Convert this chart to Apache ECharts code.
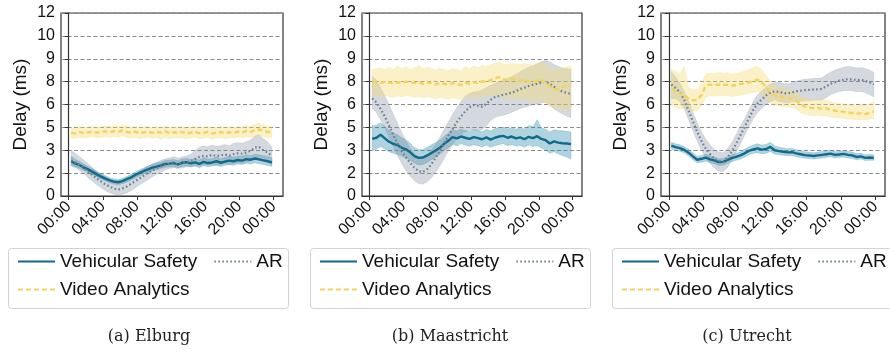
<!DOCTYPE html>
<html>
<head>
<meta charset="utf-8">
<script src="https://cdn.jsdelivr.net/npm/echarts@6/dist/echarts.min.js"></script>
<style>
  html, body { margin: 0; padding: 0; background: #fff; }
  #chart { width: 890px; height: 352px; }
</style>
</head>
<body>
<div id="chart"></div>
<script>
// hours of the day (half-hour samples)
const hours = [0.3,0.8,1.3,1.8,2.3,2.8,3.3,3.8,4.3,4.8,5.3,5.8,6.3,6.8,7.3,7.8,8.3,8.8,9.3,9.8,10.3,10.8,11.3,11.8,
  12.3,12.8,13.3,13.8,14.3,14.8,15.3,15.8,16.3,16.8,17.3,17.8,18.3,18.8,19.3,19.8,20.3,20.8,21.3,21.8,22.3,22.8,23.3,23.8];

const xTickValues = [0, 4, 8, 12, 16, 20, 24];
const xTickLabels = ['00:00', '04:00', '08:00', '12:00', '16:00', '20:00', '00:00'];
const yTickLabels = ['0', '2', '3', '5', '6', '8', '9', '10', '12'];

const captions = ['(a) Elburg', '(b) Maastricht', '(c) Utrecht'];

// (a) Elburg
const elburgVS = [2.28,2.12,2.02,1.86,1.74,1.58,1.42,1.27,1.14,1.02,0.94,0.9,0.98,1.1,1.22,1.38,1.52,1.64,1.75,1.86,1.93,2.0,2.1,2.12,
  2.16,2.08,2.18,2.22,2.14,2.2,2.1,2.24,2.16,2.2,2.28,2.18,2.26,2.32,2.28,2.36,2.32,2.42,2.38,2.46,2.4,2.34,2.28,2.2];
const elburgVSLo = [2.0,1.9,1.8,1.66,1.55,1.4,1.25,1.1,0.98,0.86,0.78,0.74,0.8,0.92,1.04,1.18,1.32,1.44,1.55,1.66,1.72,1.8,1.88,1.9,
  1.94,1.86,1.94,1.98,1.9,1.96,1.86,1.98,1.92,1.96,2.02,1.94,2.02,2.06,2.02,2.1,2.06,2.14,2.1,2.18,2.12,2.06,2.0,1.95];
const elburgVSHi = [2.6,2.4,2.26,2.08,1.94,1.78,1.6,1.45,1.32,1.2,1.12,1.08,1.16,1.28,1.42,1.58,1.72,1.84,1.96,2.08,2.16,2.22,2.34,2.36,
  2.4,2.32,2.42,2.48,2.4,2.46,2.36,2.52,2.42,2.46,2.56,2.44,2.52,2.6,2.54,2.62,2.6,2.72,2.64,2.74,2.7,2.64,2.6,2.5];
const elburgAR = [2.34,2.2,2.02,1.82,1.6,1.36,1.14,0.94,0.76,0.62,0.48,0.42,0.5,0.62,0.8,0.98,1.16,1.34,1.52,1.68,1.82,1.94,2.04,2.12,
  2.18,2.08,2.16,2.2,2.3,2.42,2.56,2.64,2.6,2.7,2.62,2.66,2.72,2.64,2.74,2.8,2.78,2.86,2.96,3.18,3.22,3.0,2.86,2.62];
const elburgARLo = [1.98,1.86,1.66,1.44,1.2,0.96,0.74,0.54,0.36,0.22,0.12,0.06,0.1,0.2,0.36,0.54,0.72,0.9,1.08,1.26,1.42,1.56,1.7,1.8,
  1.86,1.8,1.86,1.9,1.94,1.98,2.0,2.06,2.02,2.06,2.02,2.08,2.12,2.06,2.14,2.18,2.16,2.22,2.28,2.42,2.44,2.3,2.2,2.06];
const elburgARHi = [3.0,2.78,2.56,2.34,2.1,1.86,1.62,1.42,1.26,1.12,1.04,1.0,1.06,1.16,1.3,1.46,1.62,1.8,1.96,2.1,2.22,2.34,2.42,2.5,
  2.58,2.48,2.56,2.62,2.74,2.96,3.2,3.3,3.22,3.34,3.24,3.3,3.38,3.3,3.44,3.5,3.46,3.56,3.66,3.94,4.02,3.74,3.54,3.22];
const elburgVA = [4.14,4.1,4.2,4.12,4.18,4.22,4.16,4.2,4.24,4.18,4.26,4.22,4.3,4.2,4.16,4.22,4.12,4.18,4.22,4.14,4.2,4.16,4.24,4.12,
  4.18,4.14,4.2,4.1,4.16,4.22,4.12,4.14,4.2,4.1,4.16,4.2,4.12,4.18,4.14,4.22,4.16,4.26,4.2,4.3,4.36,4.28,4.2,4.22];
const elburgVALo = [3.8,3.78,3.86,3.8,3.84,3.88,3.82,3.86,3.9,3.84,3.9,3.86,3.94,3.84,3.8,3.86,3.76,3.82,3.86,3.78,3.84,3.7,3.86,3.76,
  3.82,3.78,3.84,3.74,3.8,3.86,3.76,3.78,3.84,3.74,3.8,3.84,3.76,3.82,3.78,3.86,3.8,3.9,3.84,3.92,3.96,3.9,3.84,3.86];
const elburgVAHi = [4.5,4.44,4.56,4.48,4.54,4.58,4.52,4.56,4.6,4.54,4.62,4.58,4.66,4.56,4.52,4.58,4.48,4.54,4.58,4.5,4.56,4.52,4.6,4.48,
  4.54,4.5,4.56,4.46,4.52,4.58,4.48,4.5,4.56,4.46,4.52,4.56,4.48,4.54,4.5,4.58,4.52,4.64,4.58,4.7,4.78,4.66,4.56,4.58];

// (b) Maastricht
const maasVS = [3.74,3.82,4.02,3.78,3.56,3.42,3.34,3.16,3.06,2.86,2.62,2.5,2.52,2.66,2.82,2.98,3.16,3.42,3.62,3.86,3.78,3.9,3.82,3.74,
  3.86,3.8,3.72,3.84,3.7,3.82,3.9,3.94,3.82,3.9,3.78,3.84,3.72,3.88,3.8,3.92,3.74,3.66,3.44,3.58,3.5,3.46,3.44,3.4];
const maasVSLo = [3.0,3.06,3.24,3.08,2.9,2.8,2.74,2.6,2.5,2.34,2.14,2.04,2.06,2.2,2.38,2.56,2.74,2.98,3.16,3.38,3.3,3.42,3.34,3.26,
  3.36,3.3,3.22,3.34,3.2,3.3,3.38,3.42,3.3,3.38,3.26,3.32,3.2,3.34,3.24,3.3,3.14,3.02,2.8,2.9,2.76,2.66,2.56,2.42];
const maasVSHi = [4.6,4.64,4.8,4.56,4.3,4.14,4.02,3.82,3.68,3.46,3.18,3.04,3.04,3.2,3.36,3.5,3.66,3.9,4.12,4.36,4.26,4.4,4.3,4.22,
  4.36,4.3,4.22,4.38,4.26,4.42,4.5,4.52,4.4,4.5,4.38,4.5,4.4,4.62,4.54,5.0,4.46,4.38,4.2,4.34,4.3,4.28,4.24,4.2];
const maasAR = [6.4,6.14,5.7,5.2,4.62,4.0,3.46,2.94,2.52,2.16,1.86,1.62,1.58,1.76,2.08,2.5,2.98,3.46,3.96,4.4,4.84,5.22,5.56,5.82,
  5.96,5.92,5.86,6.06,6.3,6.48,6.56,6.64,6.7,6.78,6.88,7.02,7.1,7.22,7.3,7.36,7.44,7.5,7.36,7.16,7.0,6.84,6.76,6.7];
const maasARLo = [5.76,5.5,5.0,4.46,3.86,3.24,2.66,2.12,1.66,1.3,1.0,0.8,0.78,0.92,1.2,1.56,1.96,2.44,2.96,3.38,3.76,4.06,4.22,4.3,
  4.36,4.3,4.34,4.6,4.94,5.14,5.24,5.3,5.38,5.5,5.6,5.74,5.82,5.9,5.98,6.04,6.1,6.14,5.96,5.7,5.54,5.4,5.24,5.14];
const maasARHi = [7.84,7.6,7.1,6.56,5.98,5.36,4.76,4.16,3.6,3.12,2.76,2.56,2.54,2.7,3.0,3.4,3.86,4.36,4.86,5.34,5.8,6.2,6.54,6.72,
  6.82,6.86,6.96,7.1,7.24,7.38,7.5,7.6,7.72,7.84,7.98,8.14,8.3,8.44,8.56,8.66,8.8,8.9,8.8,8.62,8.5,8.4,8.34,8.3];
const maasVA = [7.5,7.46,7.42,7.48,7.44,7.38,7.46,7.42,7.5,7.44,7.4,7.46,7.36,7.44,7.4,7.32,7.42,7.36,7.3,7.4,7.34,7.28,7.42,7.36,
  7.46,7.4,7.52,7.48,7.6,7.72,7.8,7.66,7.6,7.68,7.62,7.56,7.62,7.5,7.44,7.56,7.62,7.4,7.2,7.02,7.0,7.14,7.26,7.32];
const maasVALo = [6.6,6.54,6.5,6.58,6.52,6.46,6.56,6.5,6.6,6.52,6.46,6.54,6.42,6.5,6.46,6.36,6.48,6.4,6.34,6.44,6.4,6.3,6.48,6.42,
  6.5,6.46,6.56,6.5,6.6,6.62,6.6,6.46,6.4,6.44,6.36,6.3,6.34,6.22,6.16,6.24,6.28,6.1,5.9,5.76,5.7,5.72,5.7,5.66];
const maasVAHi = [8.3,8.36,8.4,8.3,8.44,8.28,8.52,8.36,8.46,8.3,8.4,8.56,8.34,8.44,8.38,8.26,8.4,8.3,8.2,8.36,8.3,8.2,8.5,8.36,
  8.54,8.42,8.58,8.5,8.62,8.7,8.8,8.68,8.62,8.7,8.66,8.6,8.7,8.66,8.56,8.72,8.8,8.6,8.42,8.28,8.3,8.4,8.46,8.5];

// (c) Utrecht
const utrVS = [3.3,3.2,3.14,3.02,2.84,2.6,2.38,2.44,2.52,2.4,2.34,2.22,2.24,2.36,2.48,2.56,2.66,2.8,2.96,3.06,3.12,3.04,3.08,3.22,
  3.0,2.94,2.9,2.86,2.88,2.8,2.74,2.68,2.66,2.62,2.66,2.7,2.74,2.78,2.7,2.72,2.76,2.7,2.66,2.56,2.6,2.5,2.52,2.5];
const utrVSLo = [3.08,3.0,2.94,2.82,2.62,2.38,2.16,2.22,2.3,2.18,2.12,2.0,2.02,2.14,2.26,2.34,2.42,2.54,2.7,2.8,2.84,2.76,2.8,2.92,
  2.74,2.7,2.68,2.64,2.66,2.58,2.52,2.48,2.46,2.42,2.46,2.5,2.54,2.58,2.5,2.52,2.56,2.5,2.46,2.38,2.42,2.32,2.34,2.34];
const utrVSHi = [3.52,3.42,3.36,3.24,3.06,2.82,2.6,2.66,2.74,2.62,2.56,2.44,2.46,2.58,2.7,2.78,2.9,3.06,3.22,3.34,3.42,3.34,3.38,3.52,
  3.28,3.2,3.14,3.1,3.12,3.04,2.98,2.9,2.88,2.84,2.88,2.92,2.96,3.0,2.92,2.94,2.98,2.92,2.88,2.78,2.8,2.7,2.72,2.7];
const utrAR = [7.3,7.08,6.8,6.3,5.6,4.9,4.2,3.6,3.1,2.74,2.44,2.3,2.22,2.5,2.9,3.4,3.96,4.5,5.1,5.64,6.06,6.34,6.6,6.78,
  6.86,6.82,6.76,6.72,6.8,6.86,6.9,6.94,6.96,6.98,7.0,7.02,7.2,7.36,7.46,7.58,7.62,7.66,7.64,7.6,7.62,7.56,7.46,7.32];
const utrARLo = [6.36,6.4,6.2,5.7,5.0,4.3,3.6,3.0,2.5,2.14,1.84,1.62,1.6,1.86,2.3,2.84,3.38,3.96,4.56,5.06,5.46,5.76,6.0,6.2,
  6.3,6.2,6.14,6.1,6.18,6.2,6.22,6.24,6.26,6.28,6.3,6.3,6.46,6.66,6.76,6.86,6.9,6.92,6.9,6.84,6.86,6.78,6.66,6.5];
const utrARHi = [8.16,7.8,7.4,6.86,6.2,5.5,4.8,4.2,3.72,3.34,3.04,2.9,2.82,3.1,3.5,4.0,4.56,5.06,5.64,6.2,6.62,6.9,7.14,7.34,
  7.44,7.44,7.4,7.36,7.44,7.54,7.6,7.66,7.68,7.7,7.72,7.76,7.96,8.12,8.26,8.36,8.44,8.5,8.46,8.4,8.42,8.36,8.26,8.1];
const utrVA = [7.04,6.86,6.7,6.66,6.34,6.28,6.3,6.62,7.22,7.3,7.26,7.32,7.28,7.3,7.24,7.28,7.34,7.4,7.44,7.56,7.62,7.46,7.12,6.8,
  6.62,6.5,6.44,6.4,6.36,6.26,6.0,5.86,5.8,5.76,5.78,5.72,5.76,5.64,5.6,5.56,5.52,5.46,5.44,5.4,5.42,5.38,5.44,5.54];
const utrVALo = [5.96,5.8,5.7,5.8,5.62,5.56,5.6,5.9,6.5,6.58,6.54,6.6,6.56,6.58,6.52,6.56,6.6,6.66,6.7,6.8,6.86,6.7,6.4,6.1,
  5.96,5.9,5.86,5.84,5.8,5.7,5.46,5.34,5.3,5.26,5.3,5.24,5.28,5.16,5.14,5.12,5.1,5.04,5.04,5.0,5.02,4.98,5.04,5.1];
const utrVAHi = [8.3,8.2,8.0,8.5,7.1,6.96,6.98,7.4,8.0,8.06,8.02,8.1,8.04,8.08,7.98,8.04,8.1,8.2,8.3,8.46,8.5,8.28,7.88,7.52,
  7.3,7.14,7.06,7.0,6.94,6.84,6.56,6.4,6.36,6.3,6.32,6.24,6.3,6.16,6.1,6.06,6.04,5.96,5.98,5.92,6.0,5.96,6.04,6.2];

const panels = [
  { vs: [elburgVS, elburgVSLo, elburgVSHi], ar: [elburgAR, elburgARLo, elburgARHi], va: [elburgVA, elburgVALo, elburgVAHi] },
  { vs: [maasVS, maasVSLo, maasVSHi], ar: [maasAR, maasARLo, maasARHi], va: [maasVA, maasVALo, maasVAHi] },
  { vs: [utrVS, utrVSLo, utrVSHi], ar: [utrAR, utrARLo, utrARHi], va: [utrVA, utrVALo, utrVAHi] }
];

// layout (px)
const gridLeft = [61, 362, 661];
const gridWidth = [222, 220, 224];
const legendBoxLeft = [8, 310, 612];
const captionCenter = [149, 450, 747];

const FONT = 'Liberation Sans';
const styles = {
  vs: { name: 'Vehicular Safety', color: '#0f6a8c', band: 'rgba(45,140,170,0.38)', type: 'solid', width: 2.4 },
  ar: { name: 'AR', color: '#6d7f90', band: 'rgba(120,138,156,0.32)', type: [1.6, 2.4], width: 2.2 },
  va: { name: 'Video Analytics', color: '#f2d35c', band: 'rgba(245,218,110,0.38)', type: [5, 3], width: 2.4 }
};

function pairs(vals) {
  return hours.map((h, i) => [h, vals[i]]);
}

// shaded band between lo and hi, drawn through the axis scales
function bandSeries(idx, key, lo, hi) {
  const s = styles[key];
  return {
    name: s.name + ' band', type: 'custom', xAxisIndex: idx, yAxisIndex: idx,
    silent: true, clip: true,
    data: [[hours[0], lo[0]]],
    renderItem: function (params, api) {
      const pts = [];
      for (let k = 0; k < hi.length; k++) pts.push(api.coord([hours[k], hi[k]]));
      for (let k = lo.length - 1; k >= 0; k--) pts.push(api.coord([hours[k], lo[k]]));
      return {
        type: 'polygon',
        shape: { points: pts },
        style: { fill: s.band, stroke: s.band, lineWidth: 0.6 }
      };
    }
  };
}

function lineSeries(idx, key, mean) {
  const s = styles[key];
  return {
    name: s.name, type: 'line', xAxisIndex: idx, yAxisIndex: idx,
    symbol: 'none', showSymbol: false, silent: true, data: pairs(mean),
    color: s.color,
    lineStyle: { color: s.color, width: s.width, type: s.type }
  };
}

const grids = [], xAxes = [], yAxes = [], series = [], legends = [], titles = [], graphics = [];

panels.forEach((p, i) => {
  grids.push({
    left: gridLeft[i], width: gridWidth[i], top: 13, height: 183,
    show: true, borderColor: '#333', borderWidth: 1.2, backgroundColor: 'transparent'
  });
  xAxes.push({
    type: 'value', gridIndex: i, min: -0.9, max: 25.1,
    axisLine: { show: true, onZero: false, lineStyle: { color: '#333', width: 1.2 } },
    axisTick: { show: true, length: 4, lineStyle: { color: '#333' }, customValues: xTickValues },
    axisLabel: {
      customValues: xTickValues, rotate: 45, margin: 8,
      fontSize: 16, fontFamily: FONT, color: '#111',
      formatter: v => xTickLabels[xTickValues.indexOf(v)]
    },
    splitLine: { show: false }
  });
  yAxes.push({
    type: 'value', gridIndex: i, min: 0, max: 12, interval: 1.5,
    name: 'Delay (ms)', nameLocation: 'middle', nameGap: 31,
    nameTextStyle: { fontSize: 19, fontFamily: FONT, color: '#111' },
    axisLine: { show: true, lineStyle: { color: '#333', width: 1.2 } },
    axisTick: { show: true, length: 4, lineStyle: { color: '#333' } },
    axisLabel: {
      fontSize: 16, fontFamily: FONT, color: '#111', margin: 6,
      formatter: v => yTickLabels[Math.round(v / 1.5)]
    },
    splitLine: { show: true, lineStyle: { color: '#8a8a8a', width: 1, type: [4, 2.5] } }
  });

  series.push(bandSeries(i, 'vs', p.vs[1], p.vs[2]));
  series.push(lineSeries(i, 'vs', p.vs[0]));
  series.push(bandSeries(i, 'ar', p.ar[1], p.ar[2]));
  series.push(lineSeries(i, 'ar', p.ar[0]));
  series.push(bandSeries(i, 'va', p.va[1], p.va[2]));
  series.push(lineSeries(i, 'va', p.va[0]));

  const legendCommon = {
    orient: 'horizontal', selectedMode: false, padding: 0, itemGap: 16,
    itemWidth: 37, itemHeight: 14, z: 10,
    itemStyle: { opacity: 0, borderWidth: 0 },
    textStyle: { fontSize: 19, fontFamily: FONT, color: '#111' }
  };
  legends.push(Object.assign({}, legendCommon, {
    left: legendBoxLeft[i] + 9, top: 252, data: ['Vehicular Safety', 'AR']
  }));
  legends.push(Object.assign({}, legendCommon, {
    left: legendBoxLeft[i] + 9, top: 280, data: ['Video Analytics']
  }));

  graphics.push({
    type: 'rect', left: legendBoxLeft[i], top: 248, z: 1,
    shape: { width: 280, height: 60, r: 3 },
    style: { fill: '#fff', stroke: '#d2d2d2', lineWidth: 1 }
  });

  titles.push({
    text: captions[i], left: captionCenter[i], top: 329, textAlign: 'center', padding: 0,
    textStyle: { fontSize: 16, fontFamily: 'DejaVu Serif', fontWeight: 'normal', color: '#222' }
  });
});

const chart = echarts.init(document.getElementById('chart'), null, { renderer: 'canvas' });
chart.setOption({
  animation: false,
  backgroundColor: '#fff',
  title: titles,
  grid: grids,
  xAxis: xAxes,
  yAxis: yAxes,
  legend: legends,
  graphic: graphics,
  series: series
});
</script>
</body>
</html>
